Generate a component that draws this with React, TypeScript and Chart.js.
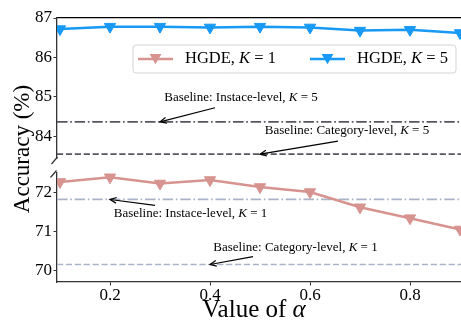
import React, { useEffect, useRef } from 'react';
import { Chart, registerables } from 'chart.js';
Chart.register(...registerables);

// ---- data ----
const ALPHAS = [0.1, 0.2, 0.3, 0.4, 0.5, 0.6, 0.7, 0.8, 0.9];
const HGDE_K1 = [72.27, 72.39, 72.23, 72.32, 72.14, 72.01, 71.62, 71.34, 71.05];
const HGDE_K5 = [86.72, 86.78, 86.78, 86.76, 86.78, 86.76, 86.68, 86.70, 86.62];
const BASE_INST_K5 = 84.36;
const BASE_CAT_K5 = 83.54;
const BASE_INST_K1 = 71.82;
const BASE_CAT_K1 = 70.15;
const X_TICKS = [0.2, 0.4, 0.6, 0.8];
const Y_TOP_TICKS = [84, 85, 86, 87];
const Y_BOT_TICKS = [70, 71, 72];
const SERIES_LABELS = ['HGDE, ', 'HGDE, '];
const SERIES_K = ['1', '5'];
const X_TITLE = 'Value of ';
const X_TITLE_SYM = 'α';
const Y_TITLE = 'Accuracy (%)';

// axis ranges
const X_MIN = 0.094;
const X_MAX = 0.902;
const TOP_MIN = 83.43;
const TOP_MAX = 87;
const BOT_MIN = 69.7;
const BOT_MAX = 72.5;

// annotations (data coordinates)
const ANNOTATIONS = [
  { pre: 'Baseline: Instace-level, ', k: '5', axis: 'yTop', tx: 0.462, ty: 84.97, fx: 0.41, fy: 84.72, ax: 0.3, ay: BASE_INST_K5 },
  { pre: 'Baseline: Category-level, ', k: '5', axis: 'yTop', tx: 0.674, ty: 84.13, fx: 0.656, fy: 83.87, ax: 0.5, ay: BASE_CAT_K5 },
  { pre: 'Baseline: Instace-level, ', k: '1', axis: 'yBot', tx: 0.361, ty: 71.47, fx: 0.29, fy: 71.67, ax: 0.2, ay: BASE_INST_K1 },
  { pre: 'Baseline: Category-level, ', k: '1', axis: 'yBot', tx: 0.571, ty: 70.58, fx: 0.486, fy: 70.35, ax: 0.4, ay: BASE_CAT_K1 },
];

const PINK = '#d6938f';
const BLUE = '#1899f5';
const DARK = '#55585f';
const LIGHT = '#a9b4c8';
const SPINE = '#333333';
const SERIF = '"Liberation Serif", "Times New Roman", serif';

type Part = { t: string; it?: boolean };

function drawRich(ctx: CanvasRenderingContext2D, parts: Part[], x: number, y: number, size: number, align: 'center' | 'left') {
  const fonts = parts.map((p) => `${p.it ? 'italic ' : ''}${size}px ${SERIF}`);
  const ws = parts.map((p, i) => {
    ctx.font = fonts[i];
    return ctx.measureText(p.t).width;
  });
  const w = ws.reduce((a, b) => a + b, 0);
  let cx = align === 'center' ? x - w / 2 : x;
  ctx.textAlign = 'left';
  parts.forEach((p, i) => {
    ctx.font = fonts[i];
    ctx.fillText(p.t, cx, y);
    cx += ws[i];
  });
}

function drawArrow(ctx: CanvasRenderingContext2D, x1: number, y1: number, x2: number, y2: number) {
  ctx.beginPath();
  ctx.moveTo(x1, y1);
  ctx.lineTo(x2, y2);
  ctx.stroke();
  const a = Math.atan2(y2 - y1, x2 - x1);
  const L = 7;
  const s = 0.42;
  ctx.beginPath();
  ctx.moveTo(x2 - L * Math.cos(a - s), y2 - L * Math.sin(a - s));
  ctx.lineTo(x2, y2);
  ctx.lineTo(x2 - L * Math.cos(a + s), y2 - L * Math.sin(a + s));
  ctx.stroke();
}

function drawDownTriangle(ctx: CanvasRenderingContext2D, x: number, y: number, r: number, color: string) {
  ctx.beginPath();
  ctx.moveTo(x, y + r);
  ctx.lineTo(x - r * Math.sin(Math.PI / 3), y - r / 2);
  ctx.lineTo(x + r * Math.sin(Math.PI / 3), y - r / 2);
  ctx.closePath();
  ctx.fillStyle = color;
  ctx.fill();
}

const decorPlugin = {
  id: 'decor',
  afterDraw(chart: any) {
    const ctx: CanvasRenderingContext2D = chart.ctx;
    const ca = chart.chartArea;
    const xs = chart.scales.x;
    ctx.save();

    // break marks
    const yTop = chart.scales.yTop;
    const yBot = chart.scales.yBot;
    ctx.strokeStyle = SPINE;
    ctx.lineWidth = 1.2;
    const lx = ca.left;
    ctx.beginPath();
    ctx.moveTo(lx - 5.5, yTop.bottom + 5.5);
    ctx.lineTo(lx + 0.5, yTop.bottom - 1.5);
    ctx.moveTo(lx - 6.5, yBot.top + 4.5);
    ctx.lineTo(lx - 0.5, yBot.top - 2.5);
    ctx.stroke();

    // annotations
    ctx.fillStyle = '#000';
    ctx.strokeStyle = '#000';
    ctx.lineWidth = 1.2;
    ctx.textBaseline = 'middle';
    ANNOTATIONS.forEach((a) => {
      const ys = chart.scales[a.axis];
      drawRich(ctx, [{ t: a.pre }, { t: 'K', it: true }, { t: ' = ' + a.k }], xs.getPixelForValue(a.tx), ys.getPixelForValue(a.ty), 13, 'center');
      drawArrow(ctx, xs.getPixelForValue(a.fx), ys.getPixelForValue(a.fy), xs.getPixelForValue(a.ax), ys.getPixelForValue(a.ay));
    });

    // legend
    const bx = ca.left + 76;
    const by = ca.top + 27;
    const bw = 323;
    const bh = 28;
    ctx.beginPath();
    ctx.roundRect(bx, by, bw, bh, 3);
    ctx.fillStyle = 'rgba(255,255,255,0.85)';
    ctx.fill();
    ctx.strokeStyle = '#d4d4d4';
    ctx.lineWidth = 1;
    ctx.stroke();
    const ly = by + 14;
    const entries = [
      { lineX: bx + 5, textX: bx + 52, ds: chart.data.datasets[0] },
      { lineX: bx + 177, textX: bx + 224, ds: chart.data.datasets[1] },
    ];
    entries.forEach((e, i) => {
      ctx.strokeStyle = e.ds.borderColor;
      ctx.lineWidth = 2.5;
      ctx.beginPath();
      ctx.moveTo(e.lineX, ly);
      ctx.lineTo(e.lineX + 35, ly);
      ctx.stroke();
      drawDownTriangle(ctx, e.lineX + 17.5, ly - 1.5, 6.8, e.ds.borderColor);
      ctx.fillStyle = '#000';
      ctx.textBaseline = 'middle';
      drawRich(ctx, [{ t: SERIES_LABELS[i] }, { t: 'K', it: true }, { t: ' = ' + SERIES_K[i] }], e.textX, ly, 16.5, 'left');
    });

    // axis titles
    ctx.fillStyle = '#000';
    ctx.textBaseline = 'alphabetic';
    drawRich(ctx, [{ t: X_TITLE }, { t: X_TITLE_SYM, it: true }], ca.left + 197, 317, 25, 'center');
    ctx.save();
    ctx.translate(29, (ca.top + ca.bottom) / 2 - 1);
    ctx.rotate(-Math.PI / 2);
    ctx.font = `23px ${SERIF}`;
    ctx.textAlign = 'center';
    ctx.fillText(Y_TITLE, 0, 0);
    ctx.restore();

    ctx.restore();
  },
};

const tickFont = { family: SERIF, size: 17 };

export default function App() {
  const ref = useRef<HTMLCanvasElement>(null);
  useEffect(() => {
    document.body.style.margin = '0';
    const canvas = ref.current!;
    const series = (vals: number[]) => ALPHAS.map((x, i) => ({ x, y: vals[i] }));
    const hline = (v: number) => [{ x: X_MIN, y: v }, { x: X_MAX, y: v }];
    const chart = new Chart(canvas, {
      type: 'line',
      data: {
        datasets: [
          {
            label: 'HGDE, K = 1', data: series(HGDE_K1), xAxisID: 'x', yAxisID: 'yBot',
            borderColor: PINK, backgroundColor: PINK, borderWidth: 2.5,
            pointStyle: 'triangle', rotation: 180, pointRadius: 6.5, pointBorderWidth: 1, pointBorderColor: PINK, pointBackgroundColor: PINK,
          },
          {
            label: 'HGDE, K = 5', data: series(HGDE_K5), xAxisID: 'x', yAxisID: 'yTop',
            borderColor: BLUE, backgroundColor: BLUE, borderWidth: 2.5,
            pointStyle: 'triangle', rotation: 180, pointRadius: 6.5, pointBorderWidth: 1, pointBorderColor: BLUE, pointBackgroundColor: BLUE,
          },
          { label: 'inst5', data: hline(BASE_INST_K5), xAxisID: 'x', yAxisID: 'yTop', borderColor: DARK, borderWidth: 1.7, borderDash: [10.5, 2.7, 1.7, 2.7], pointRadius: 0 },
          { label: 'cat5', data: hline(BASE_CAT_K5), xAxisID: 'x', yAxisID: 'yTop', borderColor: DARK, borderWidth: 1.7, borderDash: [6.2, 2.7], pointRadius: 0 },
          { label: 'inst1', data: hline(BASE_INST_K1), xAxisID: 'x', yAxisID: 'yBot', borderColor: LIGHT, borderWidth: 1.7, borderDash: [10.5, 2.7, 1.7, 2.7], pointRadius: 0 },
          { label: 'cat1', data: hline(BASE_CAT_K1), xAxisID: 'x', yAxisID: 'yBot', borderColor: LIGHT, borderWidth: 1.7, borderDash: [6.2, 2.7], pointRadius: 0 },
        ] as any,
      },
      options: {
        animation: false,
        responsive: false,
        events: [],
        layout: { autoPadding: false, padding: { top: 18, right: 0, left: 0, bottom: 0 } },
        plugins: { legend: { display: false }, tooltip: { enabled: false } },
        scales: {
          x: {
            type: 'linear', position: 'bottom', min: X_MIN, max: X_MAX,
            afterBuildTicks: (s: any) => { s.ticks = X_TICKS.map((v) => ({ value: v })); },
            afterFit: (s: any) => { s.height = 42; },
            ticks: { font: tickFont, color: '#000', padding: 0, maxRotation: 0, callback: (v: any) => Number(v).toFixed(1) },
            grid: { display: true, drawOnChartArea: false, drawTicks: true, tickLength: 3.5, color: SPINE },
            border: { display: true, color: SPINE, width: 1.3 },
          },
          xTop: {
            type: 'linear', position: 'top', min: X_MIN, max: X_MAX,
            afterFit: (s: any) => { s.height = 0; },
            ticks: { display: false },
            grid: { display: false },
            border: { display: true, color: '#000', width: 1.2 },
          },
          yBot: {
            type: 'linear', position: 'left', stack: 'left', stackWeight: 109, min: BOT_MIN, max: BOT_MAX,
            afterBuildTicks: (s: any) => { s.ticks = Y_BOT_TICKS.map((v) => ({ value: v })); },
            afterFit: (s: any) => { s.width = 57; },
            ticks: { font: tickFont, color: '#000', padding: 1.5, callback: (v: any) => String(v) },
            grid: { display: true, drawOnChartArea: false, drawTicks: true, tickLength: 3.5, color: SPINE },
            border: { display: true, color: SPINE, width: 1.3 },
          },
          yGap: {
            type: 'linear', position: 'left', stack: 'left', stackWeight: 14.5, min: 0, max: 1,
            afterFit: (s: any) => { s.width = 57; },
            ticks: { display: false },
            grid: { display: false },
            border: { display: false },
          },
          yTop: {
            type: 'linear', position: 'left', stack: 'left', stackWeight: 140.5, min: TOP_MIN, max: TOP_MAX,
            afterBuildTicks: (s: any) => { s.ticks = Y_TOP_TICKS.map((v) => ({ value: v })); },
            afterFit: (s: any) => { s.width = 57; },
            ticks: { font: tickFont, color: '#000', padding: 1.5, callback: (v: any) => String(v) },
            grid: { display: true, drawOnChartArea: false, drawTicks: true, tickLength: 3.5, color: SPINE },
            border: { display: true, color: SPINE, width: 1.3 },
          },
        } as any,
      },
      plugins: [decorPlugin],
    });
    return () => chart.destroy();
  }, []);
  return (
    <div style={{ position: 'fixed', left: 0, top: 0, width: 461, height: 324, background: '#fff' }}>
      <canvas ref={ref} width={461} height={324} style={{ width: 461, height: 324, display: 'block' }} />
    </div>
  );
}
